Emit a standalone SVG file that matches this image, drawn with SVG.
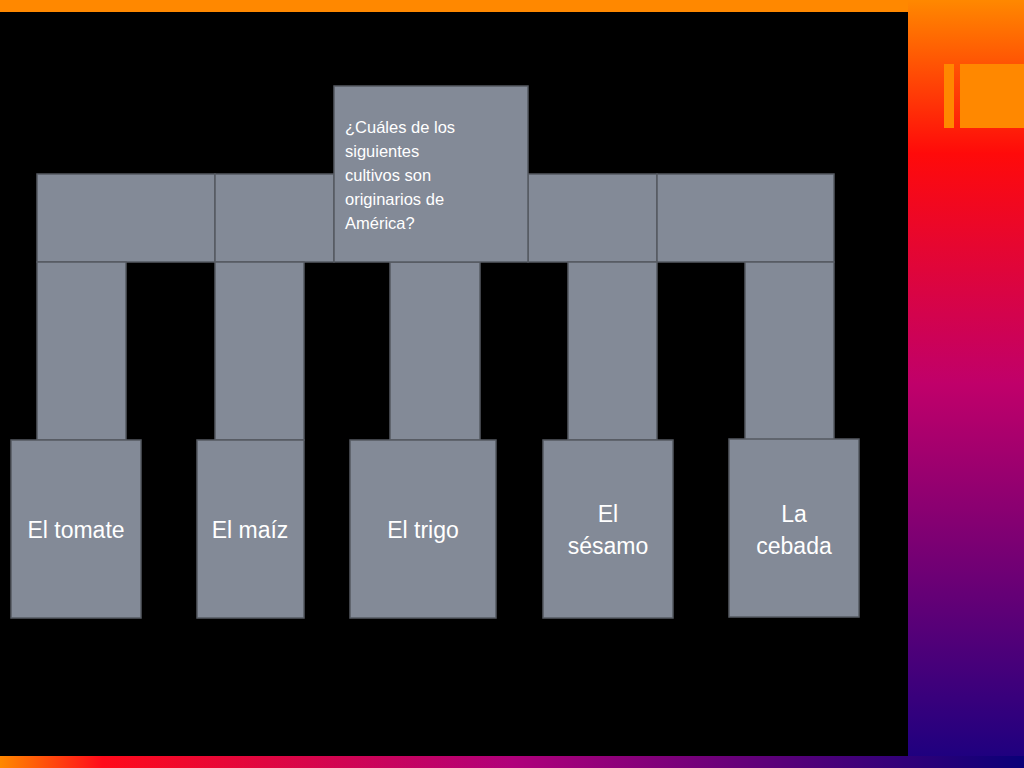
<svg xmlns="http://www.w3.org/2000/svg" width="1024" height="768" viewBox="0 0 1024 768">
<defs>
<linearGradient id="gv" x1="0" y1="0" x2="0" y2="1"><stop offset="0" stop-color="#ff8800"/><stop offset="0.2" stop-color="#ff0a0a"/><stop offset="0.5" stop-color="#c0006a"/><stop offset="1" stop-color="#1a0080"/></linearGradient>
<linearGradient id="gh" x1="0" y1="0" x2="1" y2="0"><stop offset="0" stop-color="#ff8800"/><stop offset="0.1" stop-color="#ff0a1a"/><stop offset="0.5" stop-color="#b0007a"/><stop offset="1" stop-color="#0a0078"/></linearGradient>
<style>
.b{fill:#838a97;stroke:#555a62;stroke-width:1.5}
.t{fill:#fff;font-family:"Liberation Sans",Arial,sans-serif;font-size:23px;text-anchor:middle}
.q{fill:#fff;font-family:"Liberation Sans",Arial,sans-serif;font-size:16.5px}
</style>
</defs>
<rect width="1024" height="768" fill="url(#gv)"/>
<rect x="0" y="756" width="1024" height="12" fill="url(#gh)"/>
<rect x="0" y="0" width="908" height="12" fill="#ff8800"/>
<rect x="0" y="12" width="908" height="744" fill="#000"/>
<rect x="944" y="64" width="10" height="64" fill="#ff8800"/>
<rect x="960" y="64" width="64" height="64" fill="#ff8800"/>
<g id="connectors">
<rect class="b" x="37" y="174" width="178" height="88"/>
<rect class="b" x="215" y="174" width="119" height="88"/>
<rect class="b" x="528" y="174" width="129" height="88"/>
<rect class="b" x="657" y="174" width="177" height="88"/>
<rect class="b" x="37" y="262" width="89" height="178"/>
<rect class="b" x="215" y="262" width="89" height="178"/>
<rect class="b" x="390" y="262" width="90" height="178"/>
<rect class="b" x="568" y="262" width="89" height="178"/>
<rect class="b" x="745" y="262" width="89" height="178"/>
</g>
<g id="root"><rect class="b" x="334" y="86" width="194" height="176"/>
<text class="q" x="345" y="133">¿Cuáles de los</text><text class="q" x="345" y="157">siguientes</text><text class="q" x="345" y="181">cultivos son</text><text class="q" x="345" y="205">originarios de</text><text class="q" x="345" y="229">América?</text></g>
<g id="n1"><rect class="b" x="11" y="440" width="130" height="178"/><text class="t" x="76" y="538">El tomate</text></g>
<g id="n2"><rect class="b" x="197" y="440" width="107" height="178"/><text class="t" x="250" y="538">El maíz</text></g>
<g id="n3"><rect class="b" x="350" y="440" width="146" height="178"/><text class="t" x="423" y="538">El trigo</text></g>
<g id="n4"><rect class="b" x="543" y="440" width="130" height="178"/><text class="t" x="608" y="522">El</text><text class="t" x="608" y="554">sésamo</text></g>
<g id="n5"><rect class="b" x="729" y="439" width="130" height="178"/><text class="t" x="794" y="522">La</text><text class="t" x="794" y="554">cebada</text></g>
</svg>
